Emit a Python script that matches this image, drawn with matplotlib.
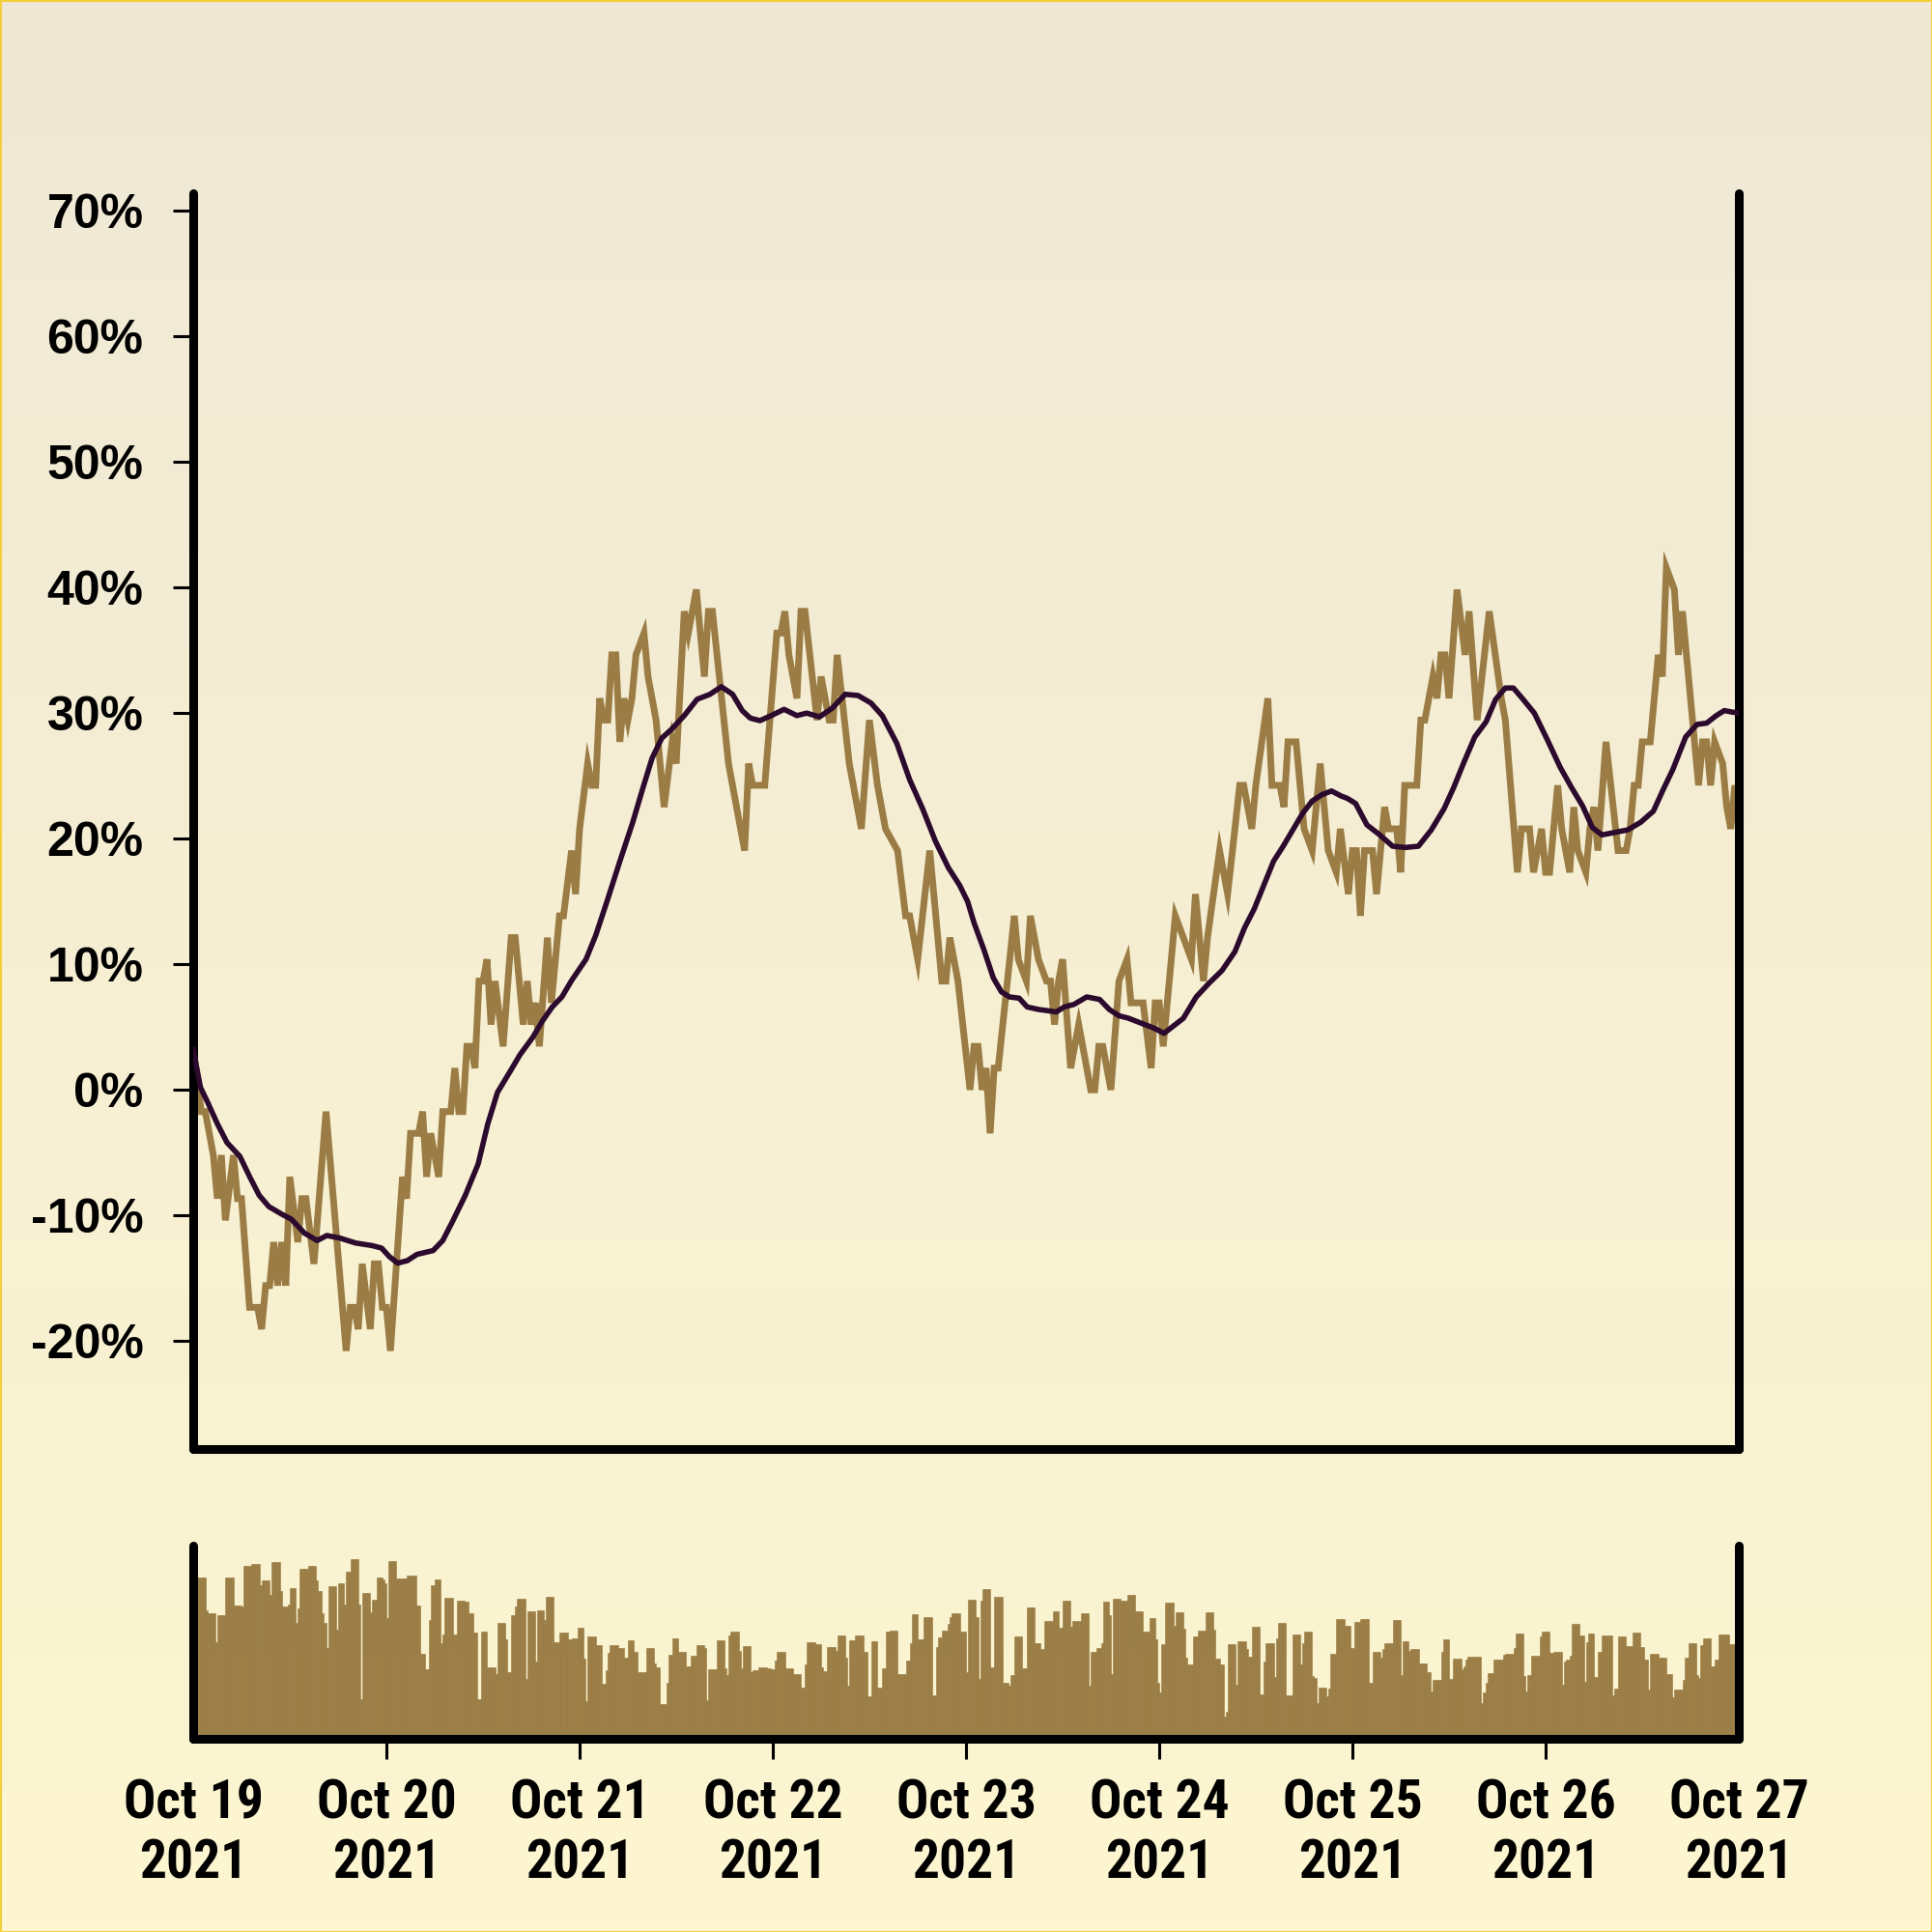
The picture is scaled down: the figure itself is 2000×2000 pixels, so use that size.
import numpy as np
import pandas as pd
import matplotlib
matplotlib.use("Agg")
import matplotlib.pyplot as plt
import matplotlib.dates as mdates
from matplotlib.patches import Rectangle
from matplotlib import font_manager as fm

# ---------------- data ----------------
START = pd.Timestamp("2021-10-19 00:00")
END = pd.Timestamp("2021-10-27 00:00")

# price line vertices: time in 30-minute steps from START, level in price ticks
price_step30 = [0,2,3,4,5,6,7,8,10,11,12,14,16,17,18,19,20,21,22,23,24,26,27,28,30,33,38,39,40,41,
                42,44,45,46,47,48,49,52,53,54,56,57,58,59,61,62,64,65,66,67,68,69,70,71,72,73,74,75,77,79,
                80,82,83,84,85,86,88,89,91,92,94,95,96,
                98,99,100,101,102,103,104,105,106,107,108,109,110,112,113,114,115,117,119,120,122,123,125,127,128,129,
                133,134,137,138,139,142,145,146,147,148,150,151,152,155,156,157,158,159,160,163,164,166,168,170,172,175,
                177,178,179,180,183,184,186,187,188,190,193,
                194,195,196,197,198,199,200,204,205,207,208,210,212,213,214,215,216,218,220,223,224,225,226,228,230,232,
                233,236,238,239,240,241,243,244,246,248,249,251,252,255,256,257,260,261,263,264,267,268,270,271,272,274,
                276,278,280,282,284,285,287,288,
                289,290,291,293,294,296,297,299,300,301,304,305,306,308,309,310,311,312,314,316,317,319,322,325,326,329,
                330,332,333,335,336,337,339,340,342,343,344,346,347,348,349,351,354,356,357,358,359,360,362,364,365,366,
                368,369,370,374,375,376,377,378,380,381,382,383,384]
price_ticks = [2,-1,-1,-2,-3,-5,-3,-6,-3,-5,-5,-10,-10,-11,-9,-9,-7,-9,-7,-9,-4,-7,-5,-5,-8,-1,-12,-10,-10,-11,
               -8,-11,-8,-8,-10,-10,-12,-4,-5,-2,-2,-1,-4,-2,-4,-1,-1,1,-1,-1,2,2,1,5,5,6,3,5,2,7,
               7,3,5,3,4,2,7,4,8,8,11,9,12,
               15,14,14,18,17,17,20,20,16,18,17,18,20,21,19,18,17,13,16,15,22,21,23,19,22,22,
               15,14,11,15,14,14,21,21,22,20,18,22,22,17,19,18,17,17,20,15,14,12,17,14,12,11,
               8,8,7,6,11,9,5,5,7,5,0,
               2,2,0,1,-2,1,1,8,6,5,8,6,5,5,3,5,6,1,3,0,0,2,2,0,5,6,
               4,4,1,4,4,2,6,8,7,6,9,5,7,11,10,9,14,14,12,14,18,14,14,13,16,16,
               12,11,15,11,10,12,9,11,
               11,8,11,11,9,13,12,12,10,14,14,17,17,19,18,20,20,18,23,20,22,17,22,18,17,10,
               12,12,10,12,10,10,14,12,10,13,11,10,12,13,11,16,11,11,12,14,14,16,16,20,19,24,
               23,20,22,14,16,16,14,16,15,13,12,14,12]
PCT_PER_TICK = 1.732

# moving average vertices (hours from START, percent)
ma_hours = [0,0.9,1.8,3,4.2,5.8,7,8.2,9.4,11,12.2,13.8,15.4,16.6,18.2,20.2,22.2,23.4,24.4,25.4,26.6,27.8,
            29.8,31,32.2,33.8,35.4,36.6,37.8,39.4,40.6,42.2,43.4,44.6,45.8,47,48.8,50,51.4,53,54.6,55.8,57,
            58.2,59.4,61,62.6,64.2,65.6,67,68.2,69.2,70.4,71.8,73.4,75,76.2,77.8,79.4,81,82.6,84.2,85.6,87.4,
            89,90.6,92.2,93.8,95.2,96.2,97,98.2,99.4,100.4,101.4,102.6,103.6,105,106.2,107.2,108.2,109.4,111,
            112.6,113.8,115,116.2,117.8,119.4,120.6,121.8,123,124.6,126.2,127.8,129.4,130.6,131.8,133,134.2,
            135.4,136.6,137.8,139,140.2,141.4,142.6,143.4,144.4,145.8,147.4,149,150.6,152.2,153.8,155.4,156.6,
            157.8,159.2,160.6,161.8,163,164,165.2,166.6,168.2,169.8,171.2,172.6,173.8,175,176.6,178.2,179.8,
            181.4,182.6,183.8,185.4,186.8,188,189.2,190.2,191,192]
ma_pct = [3.2,0.2,-1.0,-2.7,-4.2,-5.3,-6.9,-8.4,-9.3,-9.9,-10.3,-11.4,-12.0,-11.6,-11.8,-12.2,-12.4,-12.6,-13.3,
          -13.8,-13.6,-13.1,-12.8,-12.0,-10.5,-8.4,-5.9,-2.7,-0.2,1.5,2.8,4.2,5.5,6.6,7.4,8.7,10.4,12.3,15.0,
          18.2,21.3,23.9,26.4,28.0,28.7,29.8,31.1,31.5,32.1,31.5,30.2,29.6,29.4,29.8,30.3,29.8,30.0,29.7,30.4,
          31.5,31.4,30.8,29.8,27.6,24.7,22.4,19.8,17.7,16.3,15.0,13.3,11.2,8.9,7.8,7.4,7.3,6.6,6.4,6.3,6.2,
          6.6,6.8,7.4,7.2,6.4,5.9,5.7,5.3,4.9,4.5,5.1,5.7,7.4,8.5,9.5,11.0,12.9,14.4,16.3,18.2,19.4,20.7,
          22.0,23.0,23.5,23.8,23.4,23.2,22.8,21.1,20.3,19.4,19.3,19.4,20.7,22.4,24.1,26.0,28.1,29.3,31.1,
          32.0,32.0,31.1,30.0,27.9,25.7,24.1,22.6,20.9,20.3,20.5,20.7,21.3,22.2,23.9,25.5,28.1,29.1,29.2,
          29.8,30.2,30.1,30.0]

# volume, 15-minute bars: slot where the level changes and the level from there on
vol_change_slot = [0,6,7,11,12,16,20,24,25,29,33,34,38,39,43,44,47,48,51,52,53,57,61,62,64,65,66,67,71,72,75,76,78,
                   82,83,84,88,89,91,94,95,96,97,101,106,111,113,115,117,118,120,123,124,125,129,131,135,137,139,
                   141,143,146,150,151,155,156,158,160,161,165,166,170,171,174,175,179,182,186,188,191,194,195,196,
                   200,203,205,206,207,211,214,216,219,221,225,229,230,232,235,236,238,241,245,247,250,
                   252,254,255,256,260,264,265,266,267,271,272,273,277,278,281,285,287,289,290,294,298,302,304,305,
                   309,312,313,315,319,320,324,325,326,329,333,335,337,340,342,344,346,350,354,356,357,360,363,367,
                   369,370,372,375,376,377,381,384,385,389,390,391,392,396,398,402,405,406,408,412,414,418,421,423,
                   427,430,432,436,437,441,445,446,449,451,452,455,456,457,461,464,468,472,475,478,479,480,481,483,
                   487,488,492,493,494,497,499,503,
                   506,507,508,510,512,513,514,518,519,523,524,526,530,532,533,537,538,539,543,546,550,551,552,556,
                   557,558,559,563,564,565,568,572,575,577,580,584,586,590,591,592,596,600,601,604,605,609,613,615,
                   616,620,621,624,626,630,631,632,633,640,641,642,643,646,651,652,656,657,661,662,663,665,669,670,
                   674,676,680,681,682,684,685,689,691,692,693,696,698,700,705,706,708,712,715,719,721,723,724,728,
                   732,735,736,740,741,743,747,748,749,750,754,756,758,763]
vol_level = [165,130,127,97,125,165,136,135,177,179,157,162,147,181,151,135,137,154,117,133,174,177,162,151,127,117,91,
             156,110,159,137,171,184,137,37,149,128,142,165,163,159,122,182,164,167,136,85,69,120,157,163,96,105,144,
             105,141,140,127,107,37,108,71,63,117,100,66,125,135,143,58,129,77,131,120,145,97,107,100,101,112,80,35,
             103,94,53,68,86,94,91,81,99,87,66,91,75,71,32,54,84,101,87,72,83,94,
             94,91,36,69,99,70,62,104,108,88,70,93,66,68,71,70,69,78,87,70,64,49,74,97,95,71,67,92,88,104,81,51,99,
             104,87,40,98,49,70,108,109,64,78,96,126,100,123,41,92,102,109,116,123,127,108,66,142,123,58,141,153,71,
             145,54,51,62,103,70,134,96,90,119,129,112,141,113,119,127,51,87,91,96,140,125,64,143,141,147,129,108,
             122,100,54,44,95,139,114,128,111,81,74,103,109,128,
             128,110,80,74,19,24,95,52,98,90,82,113,42,77,96,60,101,117,41,105,74,96,108,61,59,33,49,40,48,85,121,
             114,91,118,121,54,87,81,90,96,120,62,98,88,90,75,66,45,57,87,100,58,80,69,72,79,82,33,44,54,65,79,84,
             85,91,106,61,45,62,83,103,108,86,87,52,77,79,83,116,104,55,97,106,60,87,104,41,48,103,93,107,92,79,47,
             85,81,63,39,47,57,81,96,62,59,94,101,72,79,105,95]
N_SLOTS = 768

ytick_values = [-20, -10, 0, 10, 20, 30, 40, 50, 60, 70]
day_ticks = pd.date_range(START, END, freq="D")

# ---------------- style ----------------
TAN = "#9a7c44"
PURPLE = "#2c0a2e"
BG_TOP = np.array([239, 232, 214]) / 255.0
BG_BOTTOM = np.array([253, 246, 208]) / 255.0

installed = {}
for f in fm.fontManager.ttflist:
    w = f.weight if isinstance(f.weight, int) else {"bold": 700, "heavy": 800, "black": 900,
                                                       "semibold": 600, "demibold": 600}.get(str(f.weight), 400)
    installed.setdefault(f.name, set()).add(w)

YFONT = "Liberation Sans" if "Liberation Sans" in installed else "DejaVu Sans"

# a narrow bold face for the date labels, if one is installed
XFONT_PROPS = dict(fontfamily=YFONT, fontsize=35)
for fam in ["Liberation Sans Narrow", "Arial Narrow", "Roboto Condensed", "Open Sans Condensed",
            "Noto Sans Condensed", "Noto Sans SemiCondensed"]:
    if fam in installed and max(installed[fam]) >= 600:
        XFONT_PROPS = dict(fontfamily=fam, fontsize=40)
        break

fig = plt.figure(figsize=(20, 20), dpi=100)

# background gradient
bg = fig.add_axes([0, 0, 1, 1], zorder=-10)
g = np.linspace(0, 1, 256)[:, None, None]
img = BG_TOP[None, None, :] + (BG_BOTTOM - BG_TOP)[None, None, :] * g
bg.imshow(img, aspect="auto", extent=[0, 1, 0, 1], origin="upper")
bg.set_axis_off()
fig.patches.append(Rectangle((0, 0), 1, 1, transform=fig.transFigure, fill=False,
                             edgecolor="#f3cf3a", linewidth=2.2, zorder=100))

# ---------------- main panel ----------------
ax = fig.add_axes([0.1, 0.25, 0.8, 0.65])
ax.set_facecolor("none")

price_time = START + pd.to_timedelta(np.array(price_step30) * 30, unit="m")
price_pct = np.array(price_ticks) * PCT_PER_TICK
ma_time = START + pd.to_timedelta(np.array(ma_hours), unit="h")

ax.plot(price_time, price_pct, color=TAN, lw=5.0, solid_joinstyle="miter", zorder=2)
ax.plot(ma_time, ma_pct, color=PURPLE, lw=4.0, solid_joinstyle="round", zorder=3)

ax.set_xlim(START, END)
ax.set_ylim(-28.6, 71.4)
ax.set_yticks(ytick_values, labels=[f"{v}%" for v in ytick_values],
              fontsize=36, fontweight="bold", fontfamily=YFONT)
ax.tick_params(axis="y", left=True, right=False, length=15, width=2.2, pad=22, colors="black")
ax.tick_params(axis="x", bottom=False, labelbottom=False)

for side in ["left", "right", "bottom"]:
    sp = ax.spines[side]
    sp.set_linewidth(6.5)
    sp.set_capstyle("round")
    sp.set_color("black")
ax.spines["top"].set_visible(False)

# ---------------- volume panel ----------------
axv = fig.add_axes([0.1, 0.1, 0.8, 0.1])
axv.set_facecolor("none")

runs = np.diff(np.append(vol_change_slot, N_SLOTS))
volume = np.repeat(vol_level, runs)
vol_time = START + pd.to_timedelta(np.arange(N_SLOTS) * 15, unit="m")
axv.bar(vol_time, volume, width=15 / 1440.0, align="edge", color=TAN,
        edgecolor=TAN, linewidth=0.4, zorder=1)

axv.set_xlim(START, END)
axv.set_ylim(-4.5, 198.5)
axv.set_yticks([])
axv.set_xticks(mdates.date2num(day_ticks),
               labels=[d.strftime("%b %d\n%Y") for d in day_ticks],
               fontweight="bold", linespacing=1.25, **XFONT_PROPS)
axv.tick_params(axis="x", length=15, width=2.2, pad=15, colors="black")
ticks = axv.xaxis.get_major_ticks()
for t in (ticks[0], ticks[-1]):
    t.tick1line.set_visible(False)

for side in ["left", "right", "bottom"]:
    sp = axv.spines[side]
    sp.set_linewidth(6.5)
    sp.set_capstyle("round")
    sp.set_color("black")
axv.spines["top"].set_visible(False)

fig.savefig("out.png", dpi=100)
